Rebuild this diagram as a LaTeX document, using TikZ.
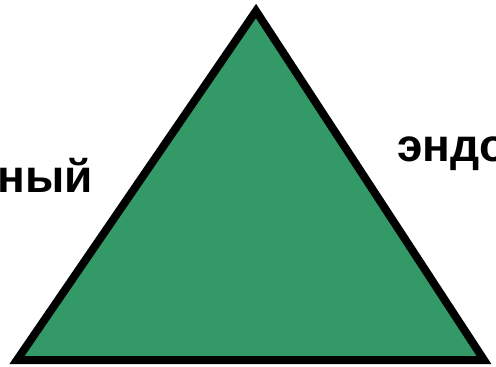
\documentclass[tikz,border=0pt]{standalone}
\usepackage{fontspec}
\setmainfont{Liberation Sans}
\begin{document}
\begin{tikzpicture}[x=0.75pt, y=-0.75pt]
	\tikzset{
		side/.style={font=\bfseries\fontsize{34.5}{40}\selectfont, inner sep=0},
		pyramid/.style={draw=black, fill=green!60!black, line width=6pt, line join=miter},
	}
	\definecolor{pgreen}{RGB}{51,153,102}
	\clip (0,0) rectangle (496,367);
	\fill[white] (0,0) rectangle (496,367);
	\draw[pyramid, fill=pgreen] (17,360) coordinate (bl) -- (256,11) coordinate (top)
		-- (484,360) coordinate (br) -- cycle;
	\node[side, anchor=base east] (left) at (93,192) {ный};
	\node[side, anchor=base west] (right) at (397,162) {эндо};
\end{tikzpicture}
\end{document}
